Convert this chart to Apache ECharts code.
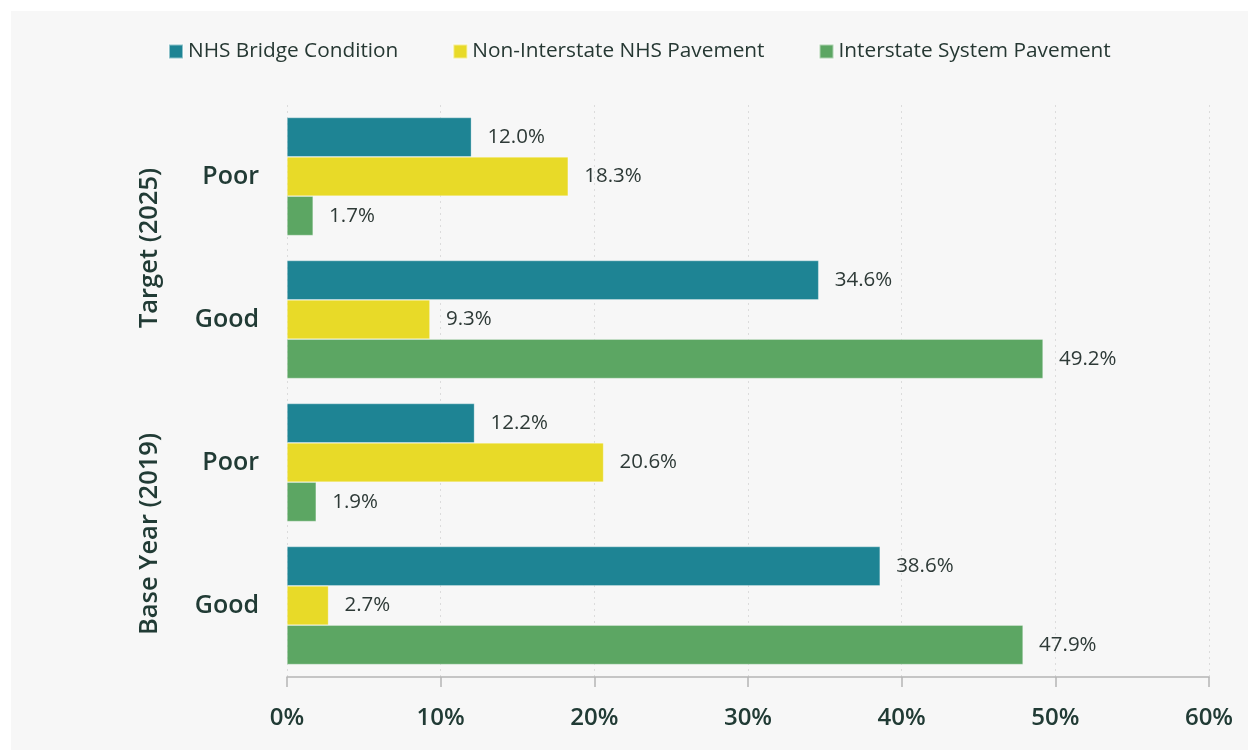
<!DOCTYPE html>
<html>
<head>
<meta charset="utf-8">
<script src="https://cdn.jsdelivr.net/npm/echarts@6/dist/echarts.min.js"></script>
<style>
  html, body { margin: 0; padding: 0; background: #ffffff; }
  #wrap { position: absolute; left: 11px; top: 11px; width: 1237px; height: 739px; background: #f7f7f7; }
  #chart { width: 1237px; height: 739px; }
</style>
</head>
<body>
<div id="wrap"><div id="chart"></div></div>
<script>
// Rows from top to bottom
const categories = ['Poor', 'Good', 'Poor', 'Good'];
const periods = ['Target (2025)', 'Base Year (2019)'];
const seriesNames = ['NHS Bridge Condition', 'Non-Interstate NHS Pavement', 'Interstate System Pavement'];
const bridge = [12.0, 34.6, 12.2, 38.6];
const nonInterstate = [18.3, 9.3, 20.6, 2.7];
const interstate = [1.7, 49.2, 1.9, 47.9];
const xTicks = [0, 10, 20, 30, 40, 50, 60];

const colors = ['#1e8494', '#e8da28', '#5ca663'];
const textDark = '#213b35';
const font = '"Open Sans", "Noto Sans", sans-serif';

const chart = echarts.init(document.getElementById('chart'));

function makeSeries(name, data, color) {
  return {
    name: name,
    type: 'bar',
    data: data,
    barGap: '0%',
    barCategoryGap: '17.5%',
    itemStyle: { color: color, borderColor: 'rgba(255,255,255,0.5)', borderWidth: 0.6 },
    label: {
      show: true,
      position: 'right',
      distance: 16,
      formatter: p => p.value.toFixed(1) + '%',
      color: '#2e3a37',
      fontFamily: font,
      fontSize: 20.5
    }
  };
}

chart.setOption({
  animation: false,
  backgroundColor: 'transparent',
  color: colors,
  legend: {
    top: 25,
    left: 152,
    itemWidth: 14,
    itemHeight: 14,
    itemGap: 54,
    icon: 'rect',
    textStyle: { color: '#263833', fontFamily: font, fontSize: 20.8, padding: [0, 0, 0, 0] },
    data: seriesNames
  },
  grid: { left: 276, right: 39, top: 94, bottom: 73, containLabel: false },
  xAxis: {
    type: 'value',
    min: xTicks[0],
    max: xTicks[xTicks.length - 1],
    interval: 10,
    axisLine: { show: true, lineStyle: { color: '#b5b5b5', width: 1.5 } },
    axisTick: { show: true, length: 10, lineStyle: { color: '#b5b5b5', width: 1.5 } },
    splitLine: { show: true, lineStyle: { color: '#dcdcdc', type: [2, 4], width: 1 } },
    axisLabel: {
      margin: 29,
      color: textDark,
      fontFamily: font,
      fontSize: 24,
      fontWeight: 600,
      formatter: v => v + '%'
    }
  },
  yAxis: [
    {
      type: 'category',
      inverse: true,
      data: categories,
      axisLine: { show: false },
      axisTick: { show: false },
      axisLabel: {
        margin: 28,
        color: textDark,
        fontFamily: font,
        fontSize: 25,
        fontWeight: 600
      }
    },
    {
      type: 'category',
      inverse: true,
      position: 'left',
      offset: 112,
      data: periods,
      axisLine: { show: false },
      axisTick: { show: false },
      axisLabel: {
        rotate: 90,
        margin: 12,
        color: textDark,
        fontFamily: font,
        fontSize: 25.5,
        fontWeight: 600
      }
    }
  ],
  series: [
    makeSeries(seriesNames[0], bridge, colors[0]),
    makeSeries(seriesNames[1], nonInterstate, colors[1]),
    makeSeries(seriesNames[2], interstate, colors[2])
  ]
});
</script>
</body>
</html>
